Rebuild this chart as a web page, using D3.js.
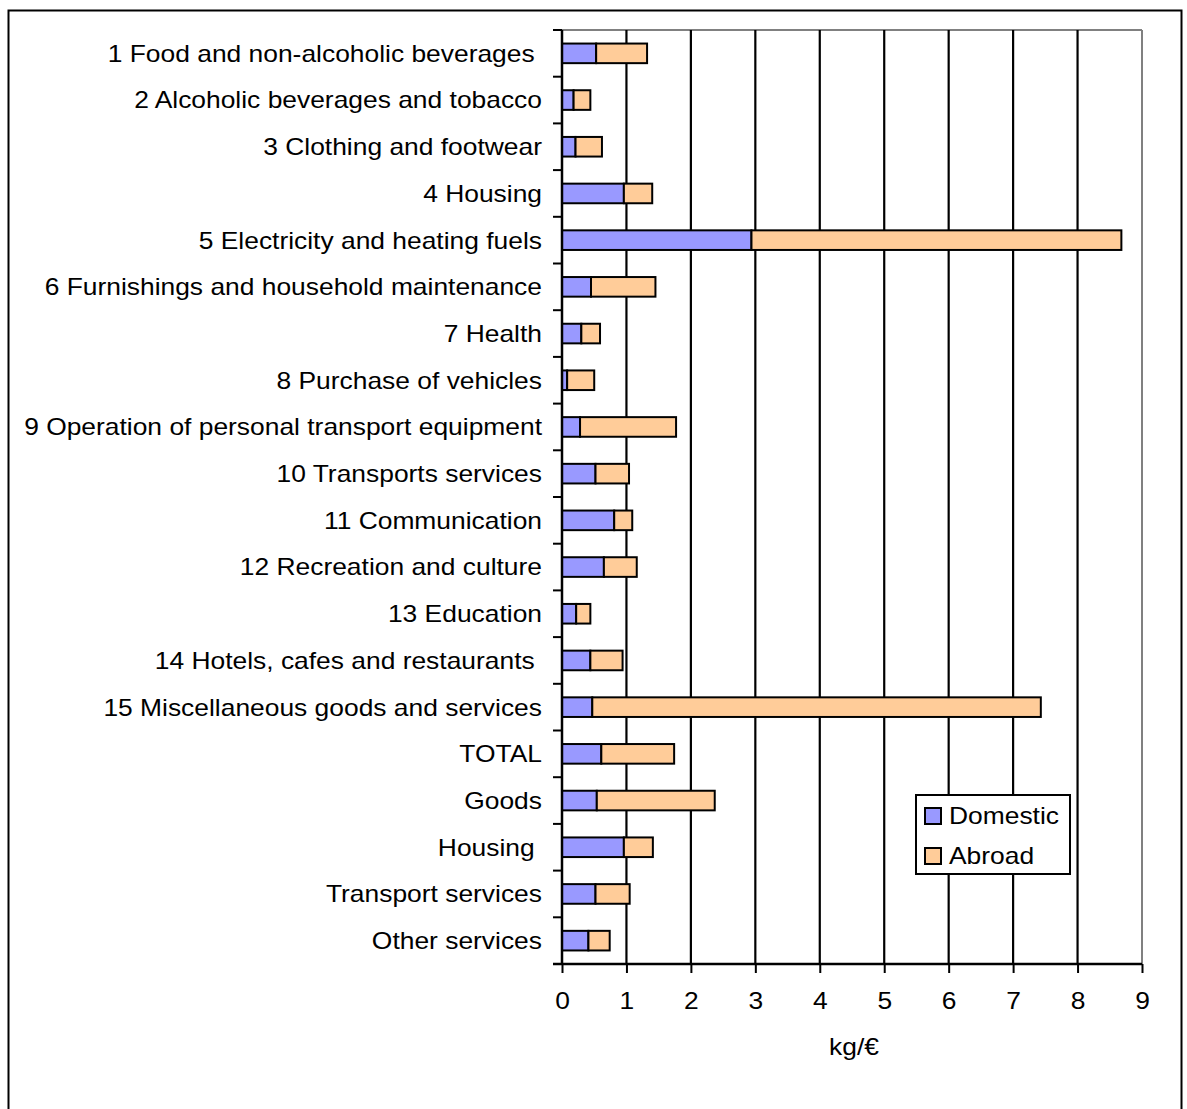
<!DOCTYPE html>
<html>
<head>
<meta charset="utf-8">
<script src="https://cdn.jsdelivr.net/npm/d3@7"></script>
<style>
  html, body { margin: 0; padding: 0; background: #fff; }
  svg { display: block; }
  text { font-family: "Liberation Sans", Arial, sans-serif; fill: #000; white-space: pre; }
</style>
</head>
<body>
<svg id="chart" width="1187" height="1109"></svg>
<script>
// Carbon intensity of household consumption, split by where emissions occur
const categories = [
  "1 Food and non-alcoholic beverages ",
  "2 Alcoholic beverages and tobacco",
  "3 Clothing and footwear",
  "4 Housing",
  "5 Electricity and heating fuels",
  "6 Furnishings and household maintenance",
  "7 Health",
  "8 Purchase of vehicles",
  "9 Operation of personal transport equipment",
  "10 Transports services",
  "11 Communication",
  "12 Recreation and culture",
  "13 Education",
  "14 Hotels, cafes and restaurants ",
  "15 Miscellaneous goods and services",
  "TOTAL",
  "Goods",
  "Housing ",
  "Transport services",
  "Other services"
];
const domestic = [0.53, 0.18, 0.21, 0.96, 2.94, 0.45, 0.30, 0.08, 0.28, 0.52,
                  0.81, 0.65, 0.22, 0.44, 0.47, 0.61, 0.54, 0.96, 0.52, 0.41];
const abroad   = [0.79, 0.26, 0.41, 0.44, 5.74, 1.00, 0.29, 0.42, 1.49, 0.52,
                  0.28, 0.51, 0.22, 0.50, 6.96, 1.13, 1.83, 0.45, 0.53, 0.33];
const seriesNames = ["Domestic", "Abroad"];
const seriesColors = ["#9999FF", "#FFCC99"];
const xTicks = [0, 1, 2, 3, 4, 5, 6, 7, 8, 9];
const xTitle = "kg/€";

const svg = d3.select("#chart");
const stretch = 1.128;      // wide letterforms
const fontSize = 23.4;

const plot = { left: 562, right: 1142, top: 30, bottom: 964 };

const x = d3.scaleLinear().domain([0, 9]).range([plot.left, plot.right]);
const y = d3.scaleBand().domain(categories).range([plot.top, plot.bottom])
  .paddingInner(0.58).paddingOuter(0.29);

// outer frame
svg.append("rect").attr("x", 8.5).attr("y", 10.5).attr("width", 1173).attr("height", 1110)
  .attr("fill", "#fff").attr("stroke", "#000").attr("stroke-width", 2);

// plot border (top / right in gray)
svg.append("line").attr("x1", plot.left).attr("x2", plot.right)
  .attr("y1", plot.top).attr("y2", plot.top).attr("stroke", "#808080").attr("stroke-width", 2);
svg.append("line").attr("x1", plot.right).attr("x2", plot.right)
  .attr("y1", plot.top).attr("y2", plot.bottom).attr("stroke", "#808080").attr("stroke-width", 2);

// vertical gridlines
svg.append("g").selectAll("line").data(xTicks.filter(d => d > 0 && d < 9)).join("line")
  .attr("x1", d => x(d)).attr("x2", d => x(d))
  .attr("y1", plot.top).attr("y2", plot.bottom)
  .attr("stroke", "#000").attr("stroke-width", 2.2);

// stacked bars
const stackData = categories.map((c, i) => ({ cat: c, Domestic: domestic[i], Abroad: abroad[i] }));
const stacked = d3.stack().keys(seriesNames)(stackData);
svg.append("g").selectAll("g").data(stacked).join("g")
  .attr("fill", (d, i) => seriesColors[i])
  .selectAll("rect").data(d => d).join("rect")
  .attr("x", d => x(d[0]))
  .attr("width", d => x(d[1]) - x(d[0]))
  .attr("y", d => y(d.data.cat))
  .attr("height", y.bandwidth())
  .attr("stroke", "#000").attr("stroke-width", 2);

// left axis with ticks on category boundaries
const step = y.step();
const y0 = plot.top;
const bounds = d3.range(categories.length + 1).map(i => y0 + i * step);
const leftAxis = svg.append("g");
leftAxis.append("line").attr("x1", plot.left).attr("x2", plot.left)
  .attr("y1", plot.top).attr("y2", plot.bottom).attr("stroke", "#000").attr("stroke-width", 2.5);
leftAxis.selectAll("line.tk").data(bounds).join("line").attr("class", "tk")
  .attr("x1", plot.left - 9).attr("x2", plot.left)
  .attr("y1", d => d).attr("y2", d => d).attr("stroke", "#000").attr("stroke-width", 2);

leftAxis.selectAll("g.lbl").data(categories).join("g").attr("class", "lbl")
  .attr("transform", d => `translate(542,${y(d) + y.bandwidth() / 2})`)
  .append("text")
  .attr("transform", `scale(${stretch},1)`)
  .attr("text-anchor", "end").attr("dy", "0.36em")
  .attr("font-size", fontSize)
  .text(d => d);

// bottom axis
const bottom = svg.append("g").attr("transform", `translate(0,${plot.bottom})`);
bottom.call(d3.axisBottom(x).tickValues(xTicks).tickSize(9).tickFormat(""));
bottom.select(".domain").attr("stroke", "#000").attr("stroke-width", 2.5)
  .attr("d", `M${plot.left - 9},0H${plot.right}`);
bottom.selectAll(".tick line").attr("stroke", "#000").attr("stroke-width", 2);
bottom.selectAll(".tick").append("text")
  .attr("transform", `translate(0,37) scale(${stretch},1)`)
  .attr("text-anchor", "middle").attr("dy", "0.36em")
  .attr("font-size", fontSize)
  .text(d => d);

svg.append("text")
  .attr("transform", `translate(${(plot.left + plot.right) / 2 + 2},1047) scale(${stretch},1)`)
  .attr("text-anchor", "middle").attr("dy", "0.36em")
  .attr("font-size", fontSize)
  .text(xTitle);

// legend
const legend = svg.append("g").attr("transform", "translate(916,795)");
legend.append("rect").attr("width", 154).attr("height", 79)
  .attr("fill", "#fff").attr("stroke", "#000").attr("stroke-width", 2);
const items = legend.selectAll("g.item").data(seriesNames).join("g").attr("class", "item")
  .attr("transform", (d, i) => `translate(9,${13 + i * 40})`);
items.append("rect").attr("width", 16).attr("height", 16)
  .attr("fill", (d, i) => seriesColors[i]).attr("stroke", "#000").attr("stroke-width", 2);
items.append("text")
  .attr("transform", `translate(24,8) scale(${stretch},1)`)
  .attr("dy", "0.36em").attr("font-size", fontSize)
  .text(d => d);
</script>
</body>
</html>
